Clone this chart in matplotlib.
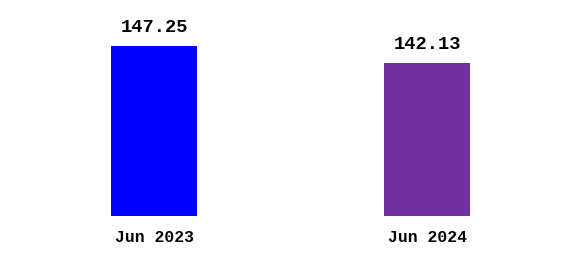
import matplotlib
matplotlib.use('Agg')
import matplotlib.pyplot as plt

# data
periods = ['Jun 2023', 'Jun 2024']
values = [147.25, 142.13]
bar_colors = ['#0000FF', '#7030A0']

FONT = 'Liberation Mono'

fig = plt.figure(figsize=(5.8, 2.64), dpi=100)
ax = fig.add_axes([0, 48 / 264, 1, 216 / 264])

x = range(len(periods))
bars = ax.bar(x, values, width=0.315, color=bar_colors)

for bar, val in zip(bars, values):
    ax.annotate(f'{val:.2f}', (bar.get_x() + bar.get_width() / 2, bar.get_height()),
                xytext=(0, 7), textcoords='offset points', ha='center', va='bottom',
                fontsize=13.5, fontweight='bold', family=FONT)

ax.set_xticks(list(x))
ax.set_xticklabels(periods, fontsize=11.8, fontweight='bold', family=FONT)
ax.tick_params(axis='x', length=0, pad=10)
ax.set_yticks([])
ax.set_xlim(-0.564, 1.56)
ax.set_ylim(95.95, 161.0)
for s in ax.spines.values():
    s.set_visible(False)

fig.savefig('out.png', dpi=100)
